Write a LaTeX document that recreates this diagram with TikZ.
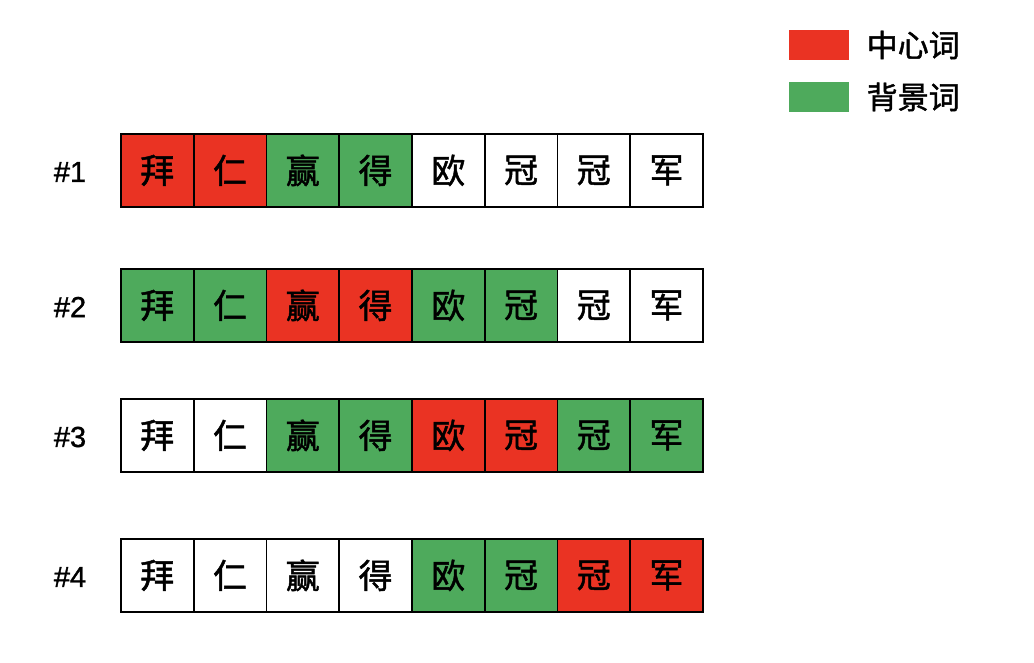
\documentclass[tikz,border=0pt]{standalone}
\usepackage{fontspec}
\setmainfont{Liberation Sans}
\newfontface\cjk{Noto Sans CJK SC}[FakeBold=1.4]
\newfontface\labelfont{Liberation Sans}[FakeBold=1.2]
\usetikzlibrary{positioning}
\definecolor{CenterRed}{RGB}{234,51,35}
\definecolor{ContextGreen}{RGB}{78,170,92}
\colorlet{hl}{CenterRed}
\colorlet{ctx}{ContextGreen}
\colorlet{no}{white}

\begin{document}
\begin{tikzpicture}[x=1pt, y=-1pt,
  cell/.style={draw, line width=1.8pt, minimum width=72.75pt, minimum height=73pt,
    inner sep=0pt, anchor=north west},
  word/.style={font=\cjk\fontsize{34}{34}\selectfont},
  rowlabel/.style={font=\labelfont\fontsize{29}{29}\selectfont},
  keybox/.style={minimum width=60pt, minimum height=30pt, inner sep=0pt},
  keytext/.style={font=\cjk\fontsize{31}{31}\selectfont, right=14pt of #1}]
  \useasboundingbox (0,0) rectangle (1034,662);

  % legend
  \node[keybox, fill=CenterRed] (keyhl) at (819,45) {};
  \node[keytext=keyhl] (keyhltext) {中心词};
  \node[keybox, fill=ContextGreen] (keyctx) at (819,97) {};
  \node[keytext=keyctx] (keyctxtext) {背景词};

  % one row per window position
  \foreach \row/\top/\pat in {
      1/133/{hl,hl,ctx,ctx,no,no,no,no},
      2/268/{ctx,ctx,hl,hl,ctx,ctx,no,no},
      3/398/{no,no,ctx,ctx,hl,hl,ctx,ctx},
      4/538/{no,no,no,no,ctx,ctx,hl,hl}} {
    \foreach \f [count=\c] in \pat
      \node[cell, fill=\f] (r\row c\c) at ({120+(\c-1)*72.75},\top) {};
    \foreach \w [count=\c] in {拜,仁,赢,得,欧,冠,冠,军}
      \node[word] (w\row c\c) at (r\row c\c.center) {\w};
    \node[rowlabel] (label\row) at (70,\top+39) {\#\row};
  }
\end{tikzpicture}
\end{document}
